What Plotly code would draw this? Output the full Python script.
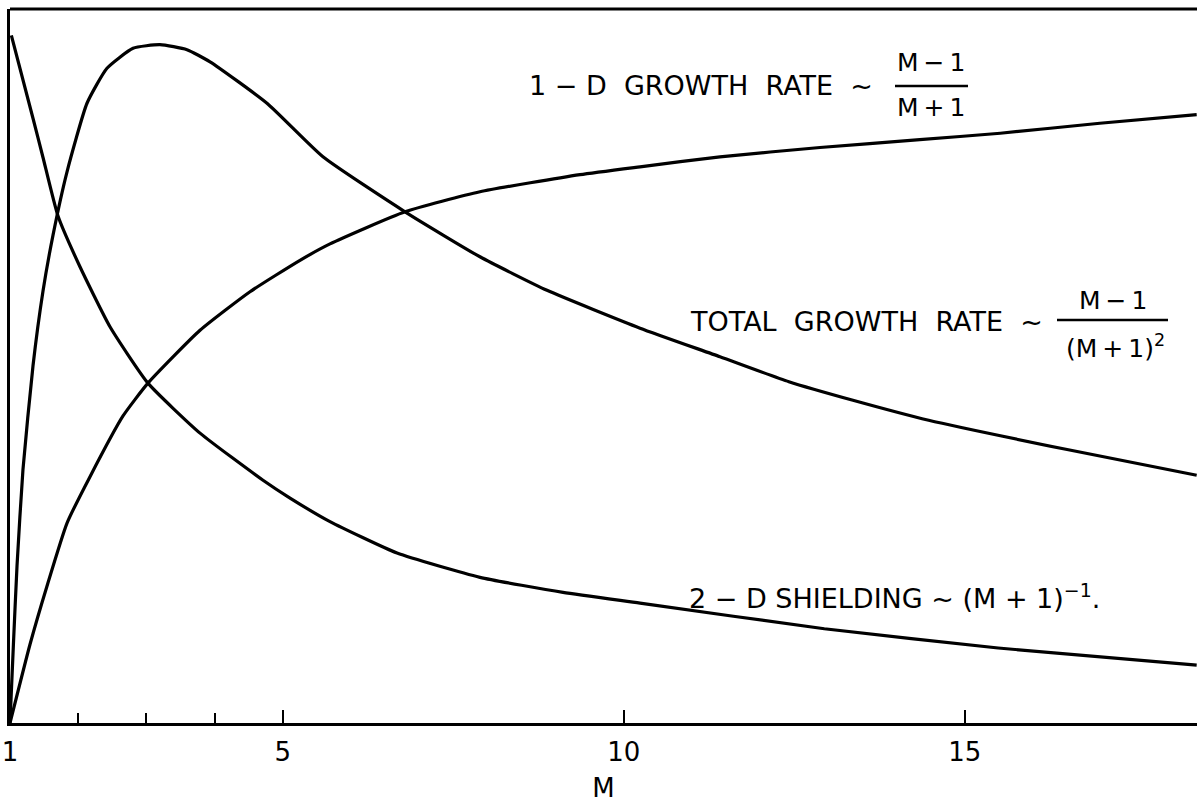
import plotly.graph_objects as go

# ---- data (M, relative value) ----
shield_M = [1.02, 1.337, 1.484, 1.704, 2.026, 2.466, 3.023, 3.786, 4.710, 5.106,
            5.692, 6.675, 7.891, 9.109, 10.238, 12.94, 15.49, 18.40]
shield_v = [0.963, 0.847, 0.792, 0.710, 0.639, 0.555, 0.476, 0.406, 0.340, 0.315,
            0.282, 0.238, 0.204, 0.183, 0.168, 0.132, 0.105, 0.081]

total_M = [1.0, 1.05, 1.103, 1.19, 1.337, 1.484, 1.63, 1.836, 2.129, 2.422,
           2.804, 3.199, 3.595, 3.933, 4.768, 5.589, 6.792, 7.891, 8.874, 10.238,
           11.41, 12.42, 13.36, 14.47, 16.5, 18.40]
total_v = [0.0, 0.110, 0.220, 0.355, 0.500, 0.605, 0.683, 0.772, 0.868, 0.917,
           0.945, 0.950, 0.943, 0.926, 0.868, 0.793, 0.716, 0.653, 0.606, 0.553,
           0.513, 0.478, 0.452, 0.424, 0.383, 0.347]

oned_M = [1.0, 1.293, 1.543, 1.836, 2.173, 2.657, 3.023, 3.786, 4.519, 5.252, 5.692,
          6.792, 7.891, 9.358, 10.238, 11.41, 12.877, 14.34, 15.52, 16.98, 18.40]
oned_v = [0.0, 0.110, 0.192, 0.280, 0.345, 0.430, 0.476, 0.550, 0.604, 0.648, 0.671,
          0.716, 0.744, 0.768, 0.779, 0.793, 0.806, 0.817, 0.826, 0.840, 0.852]

major_ticks = [1, 5, 10, 15]
major_labels = ["1", "5", "10", "15"]
minor_ticks = [2, 3, 4]

W, H = 1197, 803
L, R, T, B = 10, 0, 9, 80
FONT = "DejaVu Sans"
FS = 27

fig = go.Figure()
line_style = dict(color="black", width=3.2, shape="spline", smoothing=0.5)
for xs, ys, nm in [(shield_M, shield_v, "2-D shielding"),
                   (total_M, total_v, "Total growth rate"),
                   (oned_M, oned_v, "1-D growth rate")]:
    fig.add_trace(go.Scatter(x=xs, y=ys, mode="lines", line=line_style, name=nm,
                             showlegend=False, hoverinfo="skip"))

def px(xp):
    return (xp - L) / (W - L - R)

def py(yp):
    return (H - B - yp) / (H - B - T)

annotations = []
def txt(s, xp, yp, anchor="left", size=FS):
    annotations.append(dict(text=s, x=px(xp), y=py(yp), xref="paper", yref="paper",
                            xanchor=anchor, yanchor="middle", showarrow=False,
                            font=dict(family=FONT, size=size, color="black")))

TS = "\u2009"  # thin space
txt("1 − D  GROWTH  RATE  ~", 527, 86)
txt("M" + TS + "−" + TS + "1", 931, 63, "center", 25)
txt("M" + TS + "+" + TS + "1", 931, 108, "center", 25)
txt("TOTAL  GROWTH  RATE  ~", 688, 321)
txt("M" + TS + "−" + TS + "1", 1113, 300, "center", 25)
txt("(M" + TS + "+" + TS + "1)<sup>2</sup>", 1115, 346, "center", 25)
txt("2 − D SHIELDING ~ (M + 1)<sup>−1</sup>.", 687, 596)

shapes = [
    dict(type="line", xref="paper", yref="paper", x0=px(895), x1=px(968), y0=py(86), y1=py(86),
         line=dict(color="black", width=2.5)),
    dict(type="line", xref="paper", yref="paper", x0=px(1057), x1=px(1168), y0=py(320), y1=py(320),
         line=dict(color="black", width=2.5)),
    dict(type="line", xref="paper", yref="paper", x0=0, x1=1, y0=1, y1=1,
         line=dict(color="black", width=3)),
]

fig.update_layout(
    width=W, height=H,
    margin=dict(l=L, r=R, t=T, b=B),
    paper_bgcolor="white", plot_bgcolor="white",
    annotations=annotations, shapes=shapes,
    font=dict(family=FONT, color="black"),
    xaxis=dict(range=[1, 1 + (W - L - R) / 68.2], showgrid=False, zeroline=False,
               showline=True, linecolor="black", linewidth=3,
               tickmode="array", tickvals=major_ticks, ticktext=major_labels,
               ticks="inside", ticklen=13, tickwidth=2, tickcolor="black",
               ticklabelstandoff=4,
               tickfont=dict(family=FONT, size=26, color="black"),
               minor=dict(tickmode="array", tickvals=minor_ticks, ticks="inside",
                          ticklen=10, tickwidth=2, tickcolor="black", showgrid=False),
               title=dict(text="M", font=dict(family=FONT, size=26, color="black"), standoff=18)),
    yaxis=dict(range=[0, 1], showgrid=False, zeroline=False, showticklabels=False,
               showline=True, linecolor="black", linewidth=3, ticks=""),
)

fig.write_html("out.html", config={"displayModeBar": False},
               post_script="document.body.style.margin='0';document.body.style.overflow='hidden';")
